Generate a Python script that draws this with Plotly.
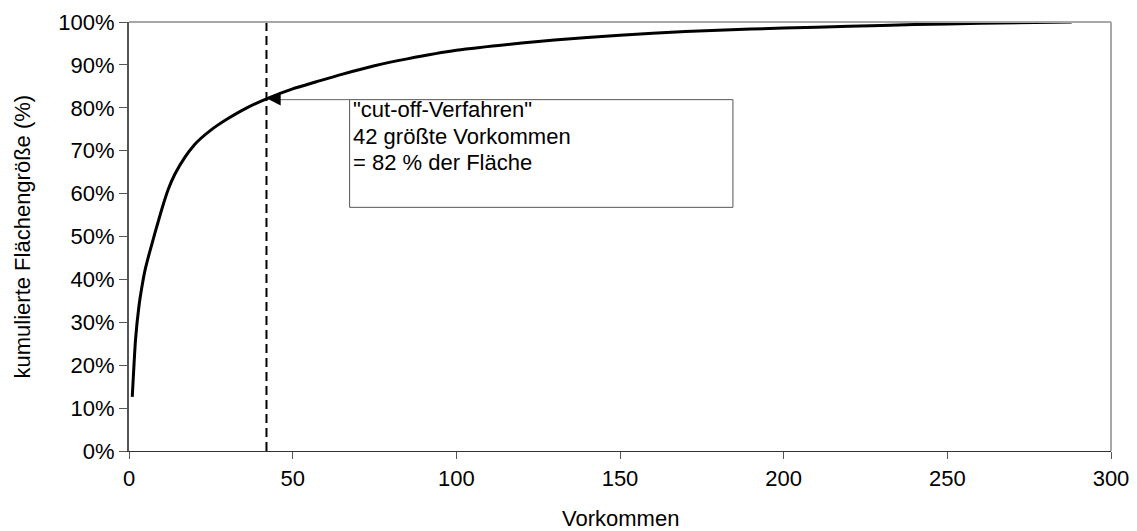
import plotly.graph_objects as go

# Data (cumulative area share, %)
vorkommen = [1, 2, 3, 4, 5, 6, 8, 10, 12, 14, 17, 20, 22, 25, 27, 30, 36, 42, 50, 57,
             65, 75, 85, 100, 120, 140, 160, 180, 200, 220, 240, 260, 288]
kum_flaeche = [12.6, 26, 33.5, 38.5, 42.5, 45.5, 51, 56.3, 61, 64.5, 68.4, 71.4, 72.9,
               74.8, 75.9, 77.4, 80, 82.1, 84.4, 86, 87.8, 89.8, 91.4, 93.4, 95.1, 96.4,
               97.4, 98.1, 98.6, 99.0, 99.4, 99.7, 100]
cutoff_x = 42
x_ticks = [0, 50, 100, 150, 200, 250, 300]
y_ticks = [0, 10, 20, 30, 40, 50, 60, 70, 80, 90, 100]
box_lines = ['"cut-off-Verfahren"', '42 größte Vorkommen', '= 82 % der Fläche']
x_title = "Vorkommen"
y_title = "kumulierte Flächengröße (%)"

FONT = "Liberation Sans, Arial, sans-serif"

fig = go.Figure()
fig.add_trace(go.Scatter(
    x=vorkommen, y=kum_flaeche, mode="lines",
    line=dict(color="black", width=3, shape="spline", smoothing=0.6),
    hoverinfo="skip", showlegend=False))

# dashed cut-off line
fig.add_shape(type="line", x0=cutoff_x, x1=cutoff_x, y0=0, y1=100, xref="x", yref="y",
              line=dict(color="black", width=2, dash="9px,5px"))

# top / right border
fig.add_shape(type="line", x0=0, x1=1, y0=1, y1=1, xref="paper", yref="paper",
              line=dict(color="#a8a8a8", width=2))
fig.add_shape(type="line", x0=1, x1=1, y0=0, y1=1, xref="paper", yref="paper",
              line=dict(color="#a8a8a8", width=2))

# annotation box
box_x0, box_x1, box_y0, box_y1 = 67.4, 184.5, 56.8, 81.9
fig.add_shape(type="rect", x0=box_x0, x1=box_x1, y0=box_y0, y1=box_y1, xref="x", yref="y",
              line=dict(color="#555555", width=1), fillcolor="white")
fig.add_shape(type="line", x0=box_x0, x1=cutoff_x + 2, y0=box_y1, y1=box_y1,
              xref="x", yref="y", line=dict(color="#666666", width=1))
fig.add_annotation(x=cutoff_x + 0.3, y=box_y1 + 0.2, ax=cutoff_x + 4.5, ay=box_y1 + 0.2,
                   xref="x", yref="y", axref="x", ayref="y", text="",
                   showarrow=True, arrowhead=2, arrowsize=2.2, arrowwidth=1.2,
                   arrowcolor="black")
for txt, yy in zip(box_lines, [79.6, 73.4, 67.2]):
    fig.add_annotation(x=box_x0, y=yy, xref="x", yref="y", text=txt, showarrow=False,
                       xanchor="left", yanchor="middle", xshift=1,
                       font=dict(family=FONT, size=22, color="black"))

# axis titles
fig.add_annotation(x=0.5, y=-0.157, xref="paper", yref="paper",
                   text=x_title, showarrow=False, xanchor="center", yanchor="middle",
                   font=dict(family=FONT, size=22, color="black"))
fig.add_annotation(x=0, y=0.5, xref="paper", yref="paper", xshift=-107,
                   text=y_title, showarrow=False, textangle=-90,
                   xanchor="center", yanchor="middle",
                   font=dict(family=FONT, size=22, color="black"))

# the page body adds an 8px offset; compensate in size and margins
fig.update_layout(
    width=1129, height=523,
    margin=dict(l=121, r=26, t=14, b=80, autoexpand=False),
    paper_bgcolor="white", plot_bgcolor="white",
    font=dict(family=FONT, size=22, color="black"),
    showlegend=False,
)
fig.update_xaxes(
    range=[0, 300], tickvals=x_ticks, ticktext=[str(v) for v in x_ticks],
    showgrid=False, zeroline=False, showline=True, linecolor="#333333", linewidth=1,
    ticks="outside", ticklen=7, tickcolor="#555555", tickwidth=1,
    tickfont=dict(family=FONT, size=22), ticklabelstandoff=1, automargin=False,
)
fig.update_yaxes(
    range=[0, 100], tickvals=y_ticks, ticktext=[f"{v}%" for v in y_ticks],
    showgrid=False, zeroline=False, showline=True, linecolor="#555555", linewidth=2,
    ticks="outside", ticklen=8, tickcolor="#555555", tickwidth=1,
    tickfont=dict(family=FONT, size=22), automargin=False,
)

fig.write_html("out.html")
